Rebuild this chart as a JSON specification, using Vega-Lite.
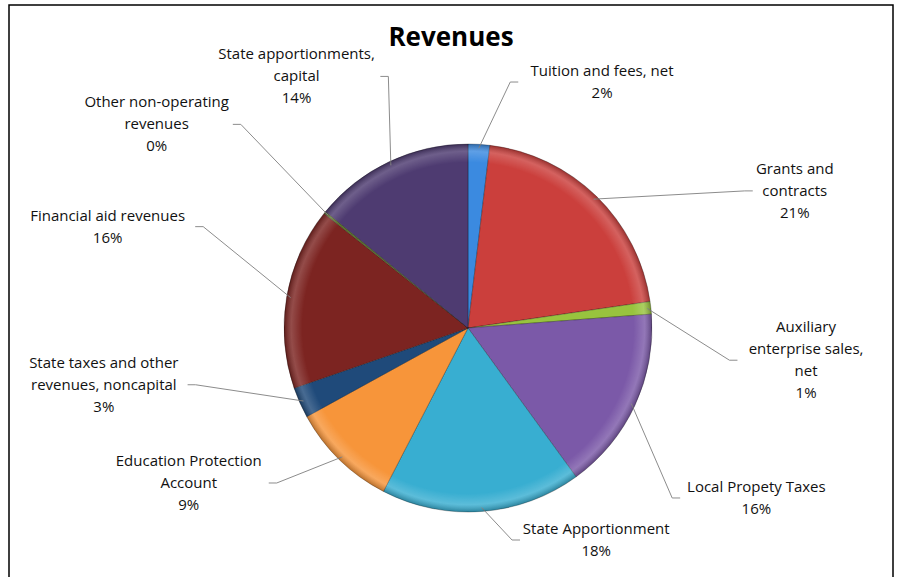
{
  "$schema": "https://vega.github.io/schema/vega-lite/v6.json",
  "width": 897,
  "height": 577,
  "autosize": {"type": "fit", "contains": "padding"},
  "padding": {"left": 9, "top": 5, "right": 4, "bottom": -5},
  "background": "white",
  "config": {"view": {"stroke": "#000000", "strokeWidth": 1.5}, "font": "Open Sans"},
  "title": {"text": "Revenues", "font": "Open Sans", "fontSize": 26, "fontWeight": "bold", "color": "#000000", "anchor": "middle", "offset": -46},
  "layer": [
    {
      "data": {"values": [
        {"source": "Tuition and fees, net", "value": 1.9},
        {"source": "Grants and\ncontracts", "value": 20.8},
        {"source": "Auxiliary\nenterprise sales,\nnet", "value": 1.1},
        {"source": "Local Propety Taxes", "value": 16.2},
        {"source": "State Apportionment", "value": 17.6},
        {"source": "Education Protection\nAccount", "value": 9.4},
        {"source": "State taxes and other\nrevenues, noncapital", "value": 2.7},
        {"source": "Financial aid revenues", "value": 16.0},
        {"source": "Other non-operating\nrevenues", "value": 0.2},
        {"source": "State apportionments,\ncapital", "value": 14.1}
      ]},
      "transform": [
        {"window": [{"op": "row_number", "as": "idx"}]},
        {"joinaggregate": [{"op": "sum", "field": "value", "as": "total"}]},
        {"window": [{"op": "sum", "field": "value", "as": "cum"}], "sort": [{"field": "idx"}], "frame": [null, 0]},
        {"calculate": "2*PI*(datum.cum - datum.value/2)/datum.total", "as": "mid"},
        {"calculate": "sin(datum.mid)", "as": "s"},
        {"calculate": "cos(datum.mid)", "as": "c"},
        {"calculate": "split(datum.source, '\\n')", "as": "lines"},
        {"calculate": "max(length(datum.lines[0]), datum.lines.length > 1 ? length(datum.lines[1]) : 0, datum.lines.length > 2 ? length(datum.lines[2]) : 0)", "as": "maxLen"},
        {"calculate": "datum.maxLen*3.8", "as": "halfW"},
        {"calculate": "datum.s > 0 ? 1 : -1", "as": "side"},
        {"calculate": "datum.s > 0 ? 330*datum.s + 110*datum.c*datum.c + 80*datum.s*datum.c : max(400*datum.s, -444 + datum.halfW)", "as": "lx"},
        {"calculate": "clamp((datum.c > 0 ? 250 : 275)*datum.c - 60*datum.s, -212, 255)", "as": "ly"},
        {"calculate": "datum.ly + datum.lines.length*11", "as": "ty"},
        {"calculate": "datum.lx - datum.side*(datum.halfW + 4)", "as": "ex"},
        {"calculate": "datum.lx - datum.side*(datum.halfW + 12)", "as": "elx"},
        {"calculate": "180*datum.s", "as": "sx"},
        {"calculate": "180*datum.c", "as": "sy"},
        {"calculate": "datum.source + '\\n' + format(datum.value, '.0f') + '%'", "as": "label"}
      ],
      "layer": [
        {
          "mark": {"type": "arc", "outerRadius": 184, "stroke": "rgba(0,0,0,0.35)", "strokeWidth": 0.8},
          "encoding": {
            "theta": {"field": "value", "type": "quantitative", "stack": true},
            "order": {"field": "idx", "type": "quantitative"},
            "color": {
              "field": "source", "type": "nominal", "legend": null,
              "scale": {
                "domain": ["Tuition and fees, net", "Grants and\ncontracts", "Auxiliary\nenterprise sales,\nnet", "Local Propety Taxes", "State Apportionment", "Education Protection\nAccount", "State taxes and other\nrevenues, noncapital", "Financial aid revenues", "Other non-operating\nrevenues", "State apportionments,\ncapital"],
                "range": ["#3B8AE0", "#CB3F3C", "#98C33E", "#7B59A8", "#38AED1", "#F7953A", "#1F4A7A", "#7C2421", "#5F7530", "#4E3B71"]
              }
            },
            "x": {"datum": 0, "type": "quantitative", "scale": {"domain": [-459, 425], "nice": false, "zero": false}, "axis": null},
            "y": {"datum": 0, "type": "quantitative", "scale": {"domain": [-254, 323], "nice": false, "zero": false}, "axis": null}
          }
        },
        {
          "mark": {"type": "rule", "color": "#8C8C8C", "strokeWidth": 1},
          "encoding": {
            "x": {"field": "sx", "type": "quantitative", "scale": {"domain": [-459, 425], "nice": false, "zero": false}, "axis": null},
            "y": {"field": "sy", "type": "quantitative", "scale": {"domain": [-254, 323], "nice": false, "zero": false}, "axis": null},
            "x2": {"field": "elx"},
            "y2": {"field": "ly"}
          }
        },
        {
          "mark": {"type": "rule", "color": "#8C8C8C", "strokeWidth": 1},
          "encoding": {
            "x": {"field": "elx", "type": "quantitative", "scale": {"domain": [-459, 425], "nice": false, "zero": false}, "axis": null},
            "y": {"field": "ly", "type": "quantitative", "scale": {"domain": [-254, 323], "nice": false, "zero": false}, "axis": null},
            "x2": {"field": "ex"},
            "y2": {"field": "ly"}
          }
        },
        {
          "mark": {"type": "text", "align": "center", "baseline": "middle", "lineBreak": "\n", "lineHeight": 22, "fontSize": 15, "font": "Open Sans", "color": "#111111"},
          "encoding": {
            "x": {"field": "lx", "type": "quantitative", "scale": {"domain": [-459, 425], "nice": false, "zero": false}, "axis": null},
            "y": {"field": "ty", "type": "quantitative", "scale": {"domain": [-254, 323], "nice": false, "zero": false}, "axis": null},
            "text": {"field": "label"}
          }
        }
      ]
    },
    {
      "data": {"values": [{"k": 1}]},
      "mark": {
        "type": "arc", "outerRadius": 184, "theta": 0, "theta2": 6.2832,
        "fill": {"gradient": "radial", "x1": 0.5, "y1": 0.5, "r1": 0, "x2": 0.5, "y2": 0.5, "r2": 0.5,
          "stops": [
            {"offset": 0, "color": "rgba(255,255,255,0)"},
            {"offset": 0.9, "color": "rgba(255,255,255,0)"},
            {"offset": 0.96, "color": "rgba(255,255,255,0.18)"},
            {"offset": 1, "color": "rgba(0,0,0,0.25)"}
          ]}
      },
      "encoding": {
        "x": {"datum": 0, "type": "quantitative", "scale": {"domain": [-459, 425], "nice": false, "zero": false}, "axis": null},
        "y": {"datum": 0, "type": "quantitative", "scale": {"domain": [-254, 323], "nice": false, "zero": false}, "axis": null}
      }
    }
  ]
}
